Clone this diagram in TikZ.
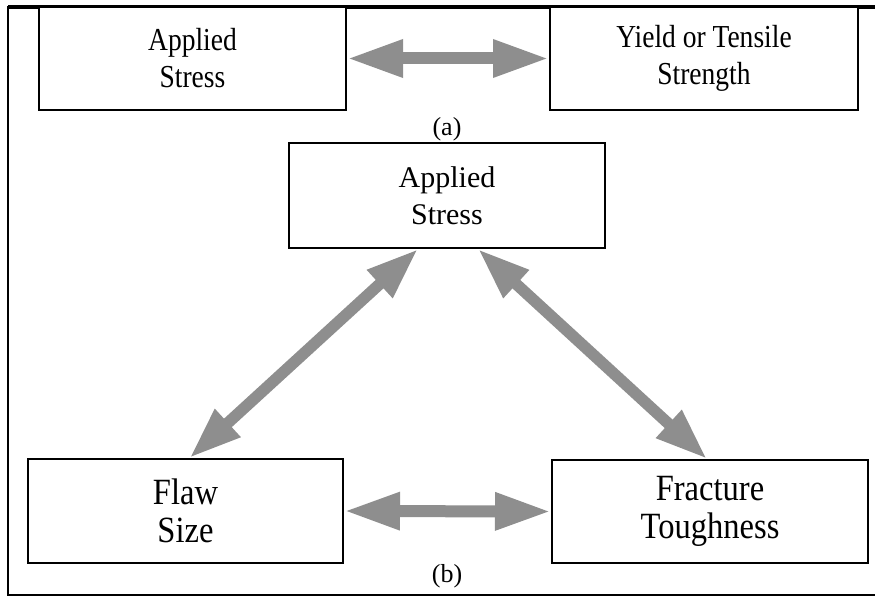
\documentclass[tikz,border=0pt]{standalone}
\usepackage{fontspec}
\setmainfont{Liberation Serif}
\newfontfamily\condtop[FakeStretch=0.86]{Liberation Serif}
\newfontfamily\condbot[FakeStretch=0.88]{Liberation Serif}
\usetikzlibrary{arrows.meta}
\definecolor{arrowgray}{HTML}{8E8E8E}
\tikzset{
  boxnode/.style={draw=black, line width=2pt, fill=white, inner sep=0pt, align=center},
  toptext/.style={font=\condtop\fontsize{32}{37}\selectfont},
  midtext/.style={font=\fontsize{30}{37}\selectfont},
  bottext/.style={font=\condbot\fontsize{37}{38}\selectfont},
  bigarrow/.style={draw=arrowgray, line width=12pt,
    {Triangle[length=56pt,width=35pt]}-{Triangle[length=56pt,width=35pt]}},
  diagarrow/.style={draw=arrowgray, line width=11.5pt,
    {Triangle[length=52pt,width=35pt]}-{Triangle[length=52pt,width=35pt]}},
  caption/.style={font=\fontsize{26}{30}\selectfont, inner sep=0pt}
}
\begin{document}
\begin{tikzpicture}[x=1pt,y=-1pt]
\useasboundingbox (0,0) rectangle (875,596);
% outer frame
\draw[line width=2pt] (876,7) -- (8,7) -- (8,595) -- (876,595);
\draw[line width=3.5pt] (8,7) -- (876,7);
% (a)
\node[boxnode, toptext, minimum width=307pt, minimum height=103pt] (A1) at (192.5,58.5) {Applied\\Stress};
\node[boxnode, toptext, minimum width=308pt, minimum height=103pt] (Y1) at (704,58.5) {Yield or Tensile\\Strength};
\node[caption] (capa) at (447,129) {(a)};
% (b)
\node[boxnode, midtext, minimum width=316pt, minimum height=105pt] (S) at (447,195.5) {Applied\\Stress};
\node[boxnode, bottext, minimum width=315pt, minimum height=104pt] (F) at (185.5,511) {Flaw\\Size};
\node[boxnode, bottext, minimum width=316pt, minimum height=103pt] (T) at (710,511.5) {Fracture\\Toughness};
\node[caption] (capb) at (447,576) {(b)};
% connectors
\draw[bigarrow] (A1.east) -- (Y1.west);
\draw[bigarrow] (F.east) -- (T.west);
\draw[diagarrow] ([xshift=-29pt]S.south) -- ([xshift=4pt]F.north);
\draw[diagarrow] ([xshift=31pt]S.south) -- ([xshift=-3pt]T.north);
\end{tikzpicture}
\end{document}
